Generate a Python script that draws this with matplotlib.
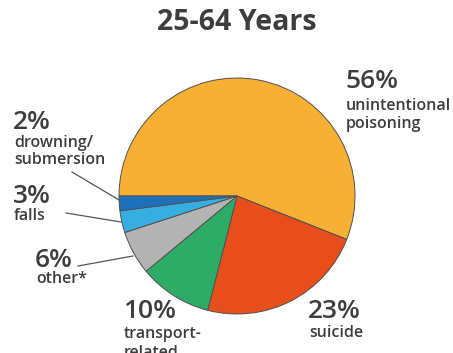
import matplotlib
matplotlib.use("Agg")
import matplotlib.pyplot as plt

# injury deaths by cause, ages 25-64
causes = ["unintentional\npoisoning", "suicide", "transport-\nrelated", "other*", "falls", "drowning/\nsubmersion"]
shares = [56, 23, 10, 6, 3, 2]
colors = ["#F7B034", "#E84E1C", "#2EAB67", "#B3B3B3", "#37AEE2", "#1F70BA"]

W, H = 453, 353
plt.rcParams['font.family'] = ['Open Sans', 'DejaVu Sans']
txt = "#3d3d3d"

fig = plt.figure(figsize=(W / 100, H / 100), dpi=100)
ax = fig.add_axes([0, 0, 1, 1])

cx, cy, r = 237, H - 196, 118
ax.pie(shares, colors=colors, startangle=180, counterclock=False,
       center=(cx, cy), radius=r,
       wedgeprops=dict(edgecolor="#505050", linewidth=0.7))
ax.set_xlim(0, W)
ax.set_ylim(0, H)
ax.set_aspect('equal')
ax.axis('off')

ax.text(cx, H - 22, "25-64 Years", ha='center', va='center',
        fontsize=20.5, fontweight='bold', color=txt)

# label anchors: left edge, baseline of the percentage, then one baseline per text line
label_pos = {
    "unintentional\npoisoning": (345, 88, [110, 128]),
    "suicide": (308, 318, [337]),
    "transport-\nrelated": (123, 318, [338, 357]),
    "other*": (35, 267, [283]),
    "falls": (13, 203, [220]),
    "drowning/\nsubmersion": (13, 129, [147, 164]),
}
for name, pct in zip(causes, shares):
    x, y, lines = label_pos[name]
    ax.text(x, H - y, f"{pct}%", ha='left', va='baseline',
            fontsize=19, fontweight='semibold', color=txt)
    for part, yl in zip(name.split("\n"), lines):
        ax.text(x + 1, H - yl, part, ha='left', va='baseline',
                fontsize=11.5, fontweight='semibold', color=txt)

# leader lines for the small slices
leaders = [((72, 172), (119, 200)), ((66, 213), (121, 222)), ((78, 266), (133, 256))]
for (x0, y0), (x1, y1) in leaders:
    ax.plot([x0, x1], [H - y0, H - y1], color="#555555", lw=0.9)

fig.savefig("out.png", dpi=100)
